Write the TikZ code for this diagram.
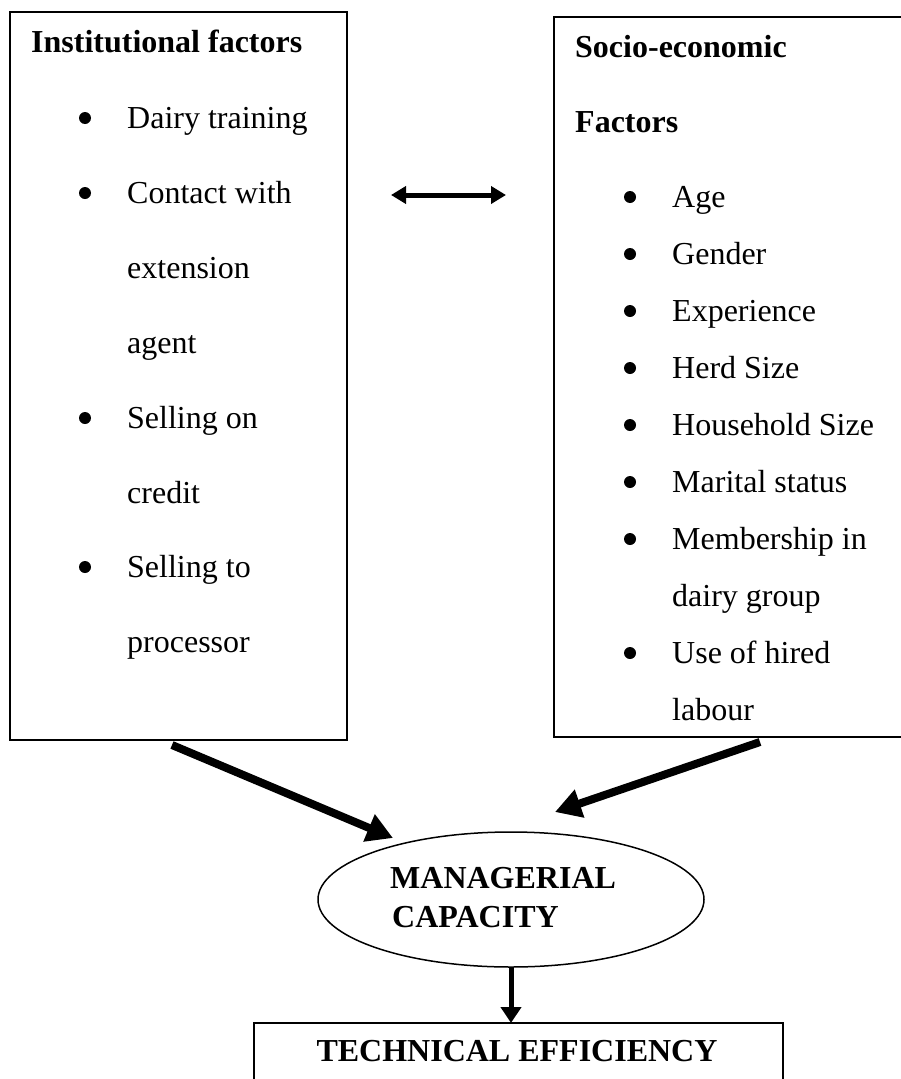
\documentclass[tikz,border=0pt]{standalone}
\usepackage{fontspec}
\setmainfont{Liberation Serif}
\usetikzlibrary{arrows.meta,shapes.geometric}
\newcommand\bodyfnt{\fontsize{32}{38}\selectfont}
\tikzset{
  boxst/.style={draw, line width=1.5pt, inner sep=0pt, outer sep=0pt},
  txt/.style={anchor=base west, inner sep=0pt, font=\bodyfnt},
  hd/.style={anchor=base west, inner sep=0pt, font=\bodyfnt\bfseries},
  bul/.style={circle, fill, inner sep=0pt, minimum size=12pt, yshift=10pt},
  fat/.style={line width=8pt, -{Triangle[length=26pt,width=28pt]}},
  mid/.style={line width=5pt, -{Triangle[length=16pt,width=20pt]}},
  dbl/.style={line width=5pt, {Triangle[length=15pt,width=17pt]}-{Triangle[length=15pt,width=17pt]}},
}
\begin{document}
\begin{tikzpicture}[x=1pt,y=-1pt]
\useasboundingbox (0,0) rectangle (901,1079);
% boxes
\node[boxst, minimum width=337pt, minimum height=728pt] (inst) at (178.5,376) {};
\node[boxst, minimum width=366pt, minimum height=720pt] (socio) at (737,377) {};
\node[boxst, ellipse, minimum width=386pt, minimum height=135pt] (mc) at (511,899.5) {};
\node[boxst, minimum width=529pt, minimum height=90pt] (te) at (518.5,1068) {};
% left texts
\node[hd] (h1) at (31,52) {Institutional factors};
\node[bul] (b1) at (85,128) {};
\node[txt] (l1) at (127,128) {Dairy training};
\node[bul] (b2) at (85,203) {};
\node[txt] (l2) at (127,203) {Contact with};
\node[txt] (l3) at (127,278) {extension};
\node[txt] (l4) at (127,353) {agent};
\node[bul] (b3) at (85,428) {};
\node[txt] (l5) at (127,428) {Selling on};
\node[txt] (l6) at (127,503) {credit};
\node[bul] (b4) at (85,577) {};
\node[txt] (l7) at (127,577) {Selling to};
\node[txt] (l8) at (127,652) {processor};
% right texts
\node[hd] (h2) at (575,57) {Socio-economic};
\node[hd] (h3) at (575,132) {Factors};
\node[bul] (c1) at (630,207) {};
\node[txt] (r1) at (672,207) {Age};
\node[bul] (c2) at (630,264) {};
\node[txt] (r2) at (672,264) {Gender};
\node[bul] (c3) at (630,321) {};
\node[txt] (r3) at (672,321) {Experience};
\node[bul] (c4) at (630,378) {};
\node[txt] (r4) at (672,378) {Herd Size};
\node[bul] (c5) at (630,435) {};
\node[txt] (r5) at (672,435) {Household Size};
\node[bul] (c6) at (630,492) {};
\node[txt] (r6) at (672,492) {Marital status};
\node[bul] (c7) at (630,549) {};
\node[txt] (r7) at (672,549) {Membership in};
\node[txt] (r8) at (672,606) {dairy group};
\node[bul] (c8) at (630,663) {};
\node[txt] (r9) at (672,663) {Use of hired};
\node[txt] (r10) at (672,720) {labour};
% ellipse text
\node[hd] (m1) at (390,888) {MANAGERIAL};
\node[hd] (m2) at (392,927) {CAPACITY};
% bottom text
\node[anchor=base, inner sep=0pt, font=\bodyfnt\bfseries] (t1) at (517,1061) {TECHNICAL EFFICIENCY};
% arrows
\coordinate (dl) at (391,195);
\coordinate (dr) at (506,195);
\draw[dbl] (dl) -- (dr);
\coordinate (a1s) at (172,745);
\coordinate (a1e) at (393,838);
\draw[fat] (a1s) -- (a1e);
\coordinate (a2s) at (760,742);
\coordinate (a2e) at (555,812);
\draw[fat] (a2s) -- (a2e);
\draw[mid] (mc.south) -- (mc.south |- te.north);
\end{tikzpicture}
\end{document}
